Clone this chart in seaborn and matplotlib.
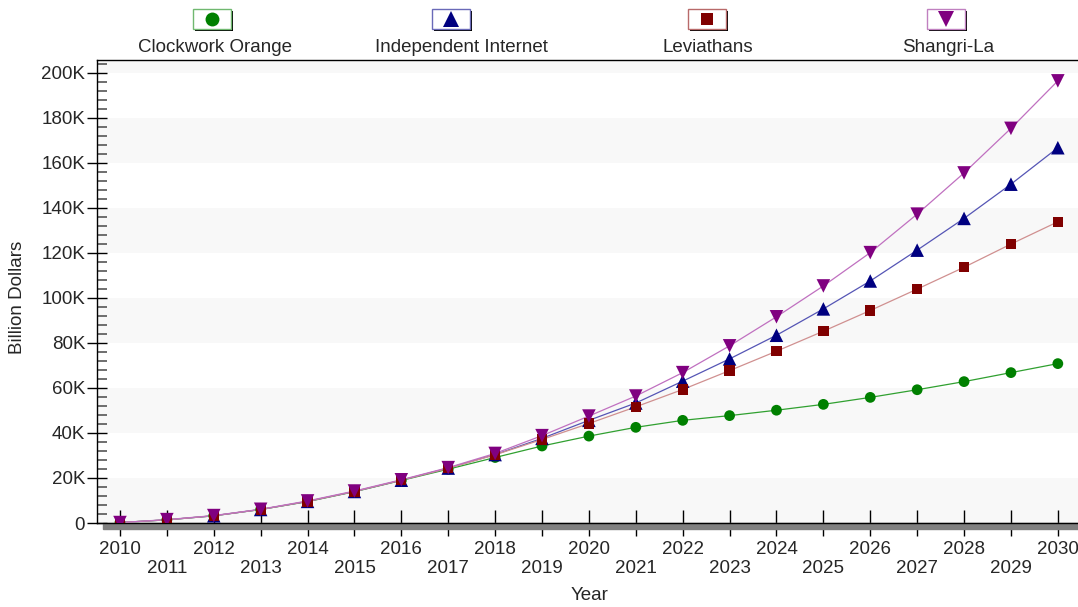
import matplotlib.pyplot as plt
import seaborn as sns
import numpy as np
import pandas as pd
from matplotlib.patches import Rectangle
from matplotlib.lines import Line2D
from matplotlib.ticker import MultipleLocator, FuncFormatter

# Values in thousands of billion dollars
years = list(range(2010, 2031))
clockwork_orange = [0.2, 1.4, 3.2, 6.0, 9.5, 13.9, 18.9, 23.9, 29.1, 34.2, 38.6, 42.5,
                    45.6, 47.7, 50.1, 52.7, 55.8, 59.2, 62.8, 66.8, 70.8]
independent_internet = [0.2, 1.4, 3.2, 6.0, 9.6, 14.0, 19.0, 24.4, 30.4, 37.6, 45.6, 53.3,
                        63.0, 72.9, 83.4, 95.1, 107.5, 121.2, 135.3, 150.5, 166.7]
leviathans = [0.2, 1.4, 3.2, 6.0, 9.6, 14.0, 19.0, 24.3, 30.3, 37.1, 44.2, 51.6,
              59.3, 67.7, 76.3, 85.2, 94.4, 103.9, 113.6, 123.9, 133.8]
shangri_la = [0.2, 1.5, 3.3, 6.1, 9.8, 14.2, 19.2, 24.6, 30.9, 38.8, 47.5, 56.4,
              66.8, 78.7, 91.6, 105.3, 120.1, 137.2, 155.5, 175.3, 196.4]

series_names = ["Clockwork Orange", "Independent Internet", "Leviathans", "Shangri-La"]
series_values = [clockwork_orange, independent_internet, leviathans, shangri_la]

marker_colors = ["#008000", "#000080", "#800000", "#800080"]
line_colors = ["#30a030", "#5555b5", "#d09090", "#c070c0"]
box_colors = ["#70b870", "#6a6ab8", "#b86a6a", "#c080c0"]
markers = ["o", "^", "s", "v"]
marker_sizes = [60, 95, 55, 95]
legend_marker_sizes = [10, 11.5, 9, 11.5]

df = pd.DataFrame({"Year": years})
for name, vals in zip(series_names, series_values):
    df[name] = vals

W, H = 1078, 607
sns.set_theme(style="white")
plt.rcParams["font.family"] = ["Liberation Sans", "DejaVu Sans"]

fig = plt.figure(figsize=(W / 100, H / 100), dpi=100)
ax = fig.add_axes([97 / W, 1 - 523 / H, (1078 - 97) / W, (523 - 59.7) / H])

# alternating horizontal bands
for lo in range(0, 220, 40):
    ax.axhspan(lo, lo + 20, color="#f8f8f8", zorder=0, lw=0)

for name, lc, mc, mk, ms in zip(series_names, line_colors, marker_colors, markers, marker_sizes):
    sns.lineplot(data=df, x="Year", y=name, color=lc, linewidth=0.9, ax=ax, zorder=3)
    sns.scatterplot(data=df, x="Year", y=name, color=mc, marker=mk, s=ms,
                    edgecolor="none", ax=ax, zorder=4)

ax.set_xlim(2009.51, 2030.43)
ax.set_ylim(0, 205.8)

# axes styling
ax.spines["right"].set_visible(False)
for side in ["left", "bottom", "top"]:
    ax.spines[side].set_color("black")
    ax.spines[side].set_linewidth(1.0)

ax.yaxis.set_major_locator(MultipleLocator(20))
ax.yaxis.set_minor_locator(MultipleLocator(4))
ax.yaxis.set_major_formatter(FuncFormatter(lambda v, p: "0" if v == 0 else f"{int(v)}K"))
ax.tick_params(axis="y", which="major", direction="inout", length=15, width=1,
               color="black", labelsize=13.5, pad=1, left=True)
ax.tick_params(axis="y", which="minor", direction="in", length=7, width=1.2,
               color="#555555", left=True)

ax.set_xticks(years)
ax.set_xticklabels([str(y) if y % 2 == 0 else "\n" + str(y) for y in years])
ax.tick_params(axis="x", which="major", direction="inout", length=18.5, width=1,
               color="black", labelsize=13.5, pad=4, bottom=True)
for lbl in ax.get_xticklabels():
    lbl.set_linespacing(1.12)

ax.set_xlabel("")
ax.set_ylabel("")

# dark floor bar under the zero line
ax.add_patch(Rectangle(((103 - 97) / (W - 97), -6 / (523 - 59.7)), 1, 6 / (523 - 59.7),
                       transform=ax.transAxes, color="#808080", clip_on=False, zorder=1))

fig.text(18 / W, 1 - 297 / H, "Billion Dollars", rotation=90, ha="center", va="center", fontsize=13.5)
fig.text(590 / W, 1 - 596 / H, "Year", ha="center", va="center", fontsize=13.5)

# legend on top: boxed marker swatches with a drop shadow, label under them
box_centers = [212, 451, 707, 946]
label_centers = [215, 461, 708, 948]
for name, cx, lx, bc, mc, mk, lms in zip(series_names, box_centers, label_centers,
                                         box_colors, marker_colors, markers, legend_marker_sizes):
    bw, bh, top = 38, 20, 9
    fig.add_artist(Rectangle(((cx - bw / 2 + 2) / W, 1 - (top + bh + 2) / H), bw / W, bh / H,
                             transform=fig.transFigure, facecolor="black", edgecolor="none"))
    fig.add_artist(Rectangle(((cx - bw / 2) / W, 1 - (top + bh) / H), bw / W, bh / H,
                             transform=fig.transFigure, facecolor="white", edgecolor=bc, lw=1.0))
    fig.add_artist(Line2D([cx / W], [1 - (top + bh / 2) / H], transform=fig.transFigure,
                          marker=mk, color=mc, markersize=lms,
                          markeredgewidth=0, linestyle="none"))
    fig.text(lx / W, 1 - 51.5 / H, name, ha="center", va="baseline", fontsize=13.5)

fig.savefig("out.png", dpi=100)
